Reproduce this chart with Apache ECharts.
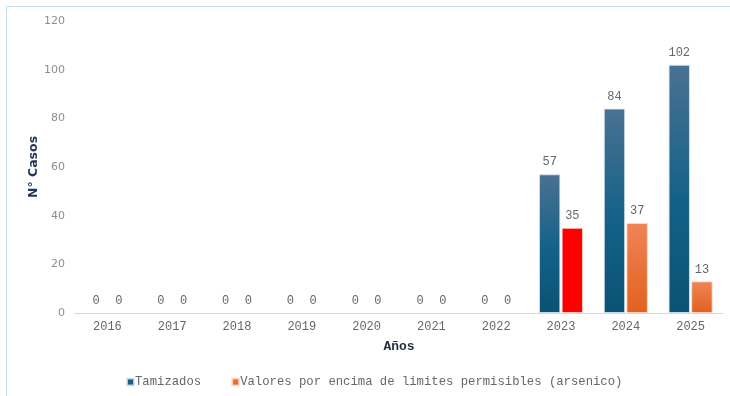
<!DOCTYPE html>
<html>
<head>
<meta charset="utf-8">
<script src="https://cdn.jsdelivr.net/npm/echarts@6/dist/echarts.min.js"></script>
<style>
  html, body { margin: 0; padding: 0; background: #ffffff; }
  #chart { width: 730px; height: 396px; }
</style>
</head>
<body>
<div id="chart"></div>
<script>
// Años y casos por año
const years = ['2016', '2017', '2018', '2019', '2020', '2021', '2022', '2023', '2024', '2025'];
const tamizados = [0, 0, 0, 0, 0, 0, 0, 57, 84, 102];
const valoresEncima = [0, 0, 0, 0, 0, 0, 0, 35, 37, 13];
const yTicks = [0, 20, 40, 60, 80, 100, 120];

const seriesNames = ['Tamizados', 'Valores por encima de limites permisibles (arsenico)'];
const highlightYear = '2023';

const mono = '"Liberation Mono", "DejaVu Sans Mono", monospace';
const sans = '"DejaVu Sans", Verdana, sans-serif';

const blueGrad = new echarts.graphic.LinearGradient(0, 0, 0, 1, [
  { offset: 0, color: '#4a7192' },
  { offset: 0.55, color: '#136188' },
  { offset: 1, color: '#0b5274' }
]);
const orangeGrad = new echarts.graphic.LinearGradient(0, 0, 0, 1, [
  { offset: 0, color: '#ef8457' },
  { offset: 1, color: '#e2611e' }
]);

const labelStyle = {
  show: true,
  position: 'top',
  distance: 6,
  fontFamily: mono,
  fontSize: 12,
  color: '#63676d'
};

// zero-height bars get no outline so the baseline stays clean
function toItems(values, extraStyle) {
  return values.map((v, i) => {
    const style = Object.assign({}, extraStyle ? extraStyle(i) : {});
    if (v === 0) style.borderWidth = 0;
    return { value: v, itemStyle: style };
  });
}

const chart = echarts.init(document.getElementById('chart'), null, { renderer: 'canvas' });

chart.setOption({
  animation: false,
  backgroundColor: '#ffffff',
  graphic: [
    { type: 'line', shape: { x1: 6.5, y1: 6.5, x2: 730, y2: 6.5 }, style: { stroke: '#c6daf0', lineWidth: 1 } },
    { type: 'line', shape: { x1: 6.5, y1: 6.5, x2: 6.5, y2: 396 }, style: { stroke: '#c6daf0', lineWidth: 1 } }
  ],
  grid: { left: 75, right: 7, top: 21, bottom: 83, containLabel: false },
  legend: {
    left: 121,
    top: 371,
    itemWidth: 7,
    itemHeight: 7,
    itemGap: 30,
    icon: 'rect',
    textStyle: { fontFamily: mono, fontSize: 12.25, color: '#63676d', padding: [0, 0, 0, -4] },
    data: [
      { name: seriesNames[0], itemStyle: { color: '#1a6085' } },
      { name: seriesNames[1], itemStyle: { color: '#ec6a2c' } }
    ]
  },
  xAxis: {
    type: 'category',
    data: years,
    name: 'Años',
    nameLocation: 'middle',
    nameGap: 27,
    nameMoveOverlap: false,
    nameTextStyle: { fontFamily: mono, fontSize: 13, fontWeight: 'bold', color: '#1f2d3d' },
    axisLine: { show: true, lineStyle: { color: '#c6daf0', width: 1 } },
    axisTick: { show: false },
    axisLabel: { fontFamily: mono, fontSize: 12, color: '#63676d', margin: 8 }
  },
  yAxis: {
    type: 'value',
    min: yTicks[0],
    max: yTicks[yTicks.length - 1],
    interval: yTicks[1] - yTicks[0],
    name: 'N° Casos',
    nameLocation: 'middle',
    nameGap: 35,
    nameMoveOverlap: false,
    nameRotate: 90,
    nameTextStyle: { fontFamily: sans, fontSize: 12.5, fontWeight: 'bold', color: '#1f3550' },
    axisLine: { show: false },
    axisTick: { show: false },
    splitLine: { show: false },
    axisLabel: { fontFamily: sans, fontSize: 11, color: '#8a8f96', margin: 10 }
  },
  series: [
    {
      name: seriesNames[0],
      type: 'bar',
      barWidth: '33%',
      barGap: '6%',
      data: toItems(tamizados),
      itemStyle: { color: blueGrad, borderColor: 'rgba(220,230,240,0.8)', borderWidth: 1 },
      label: labelStyle
    },
    {
      name: seriesNames[1],
      type: 'bar',
      barWidth: '33%',
      data: toItems(valoresEncima, i => years[i] === highlightYear ? { color: '#ff0000' } : {}),
      itemStyle: { color: orangeGrad, borderColor: 'rgba(250,220,210,0.8)', borderWidth: 1 },
      label: labelStyle
    }
  ]
});
</script>
</body>
</html>
